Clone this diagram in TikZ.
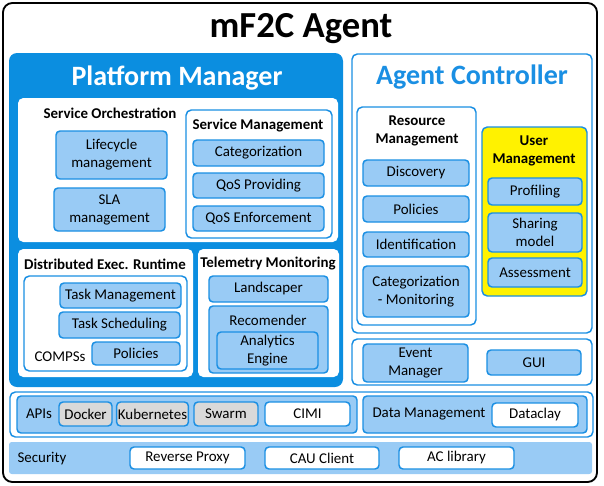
\documentclass[tikz,border=0pt]{standalone}
\usepackage{fontspec}
\setmainfont{Carlito}
\usepackage{xcolor}
\usepackage{tikz}
\usetikzlibrary{positioning}
\definecolor{pmblue}{HTML}{0B8EE0}
\definecolor{lineblue}{HTML}{1A8FE3}
\definecolor{itemblue}{HTML}{99CBF5}
\definecolor{dockgray}{HTML}{D9D9D9}
\definecolor{umyellow}{HTML}{FFF200}
\tikzset{
x=0.75pt, y=-0.75pt, % one unit is one pixel of the drawing
sz/.style 2 args={minimum width=#1*0.75pt, minimum height=#2*0.75pt}, % size in pixels
base/.style={rectangle, inner sep=1pt, align=center, font=\fontsize{11.2}{13.5}\selectfont}, % all boxes
item/.style={base, draw=lineblue, line width=1.1pt, fill=itemblue, rounded corners=3pt}, % light blue boxes
panel/.style={base, draw=lineblue, line width=1.1pt, fill=white, rounded corners=4pt}, % white boxes with a border
plain/.style={base, fill=white, rounded corners=4pt}, % white boxes on the blue
tool/.style={item, fill=dockgray}, % grey boxes
head/.style={font=\fontsize{11.2}{13.5}\selectfont\bfseries, align=center, inner sep=0pt}, % titles of the panels
txt/.style={font=\fontsize{11.2}{13.5}\selectfont, inner sep=0pt}, % plain text
}

\begin{document}
\begin{tikzpicture}
  \useasboundingbox (0,0) rectangle (604,486);
  % the agent
  \node[base, draw=black, line width=1.4pt, rounded corners=7pt, sz={594}{479}] (agent) at (300,242.5) {};
  \node[head, font=\fontsize{27.5}{30}\selectfont\bfseries] (agenttitle) at (301,29) {mF2C Agent};

  % platform manager
  \node[base, fill=pmblue, rounded corners=6pt, sz={334}{334}] (pm) at (176,220) {};
  \node[head, text=white, font=\fontsize{21}{24}\selectfont\bfseries] (pmtitle) at (177,78) {Platform Manager};

  \node[plain, sz={320}{144}] (so) at (178,170) {};
  \node[head] (sotitle) at (110,113) {Service Orchestration};
  \node[item, sz={111}{48}] (lcm) at (111.5,155) {Lifecycle\\management};
  \node[item, sz={111}{43}] (sla) at (109.5,209.5) {SLA\\management};
  \node[panel, sz={146}{128}] (sm) at (259,174) {};
  \node[head] (smtitle) at (258,126) {Service Management};
  \node[item, sz={131}{26}] (categ) at (258.5,153) {Categorization};
  \node[item, sz={131}{25}] (qosp) at (258.5,185.5) {QoS Providing};
  \node[item, sz={131}{25}] (qose) at (258.5,218.5) {QoS Enforcement};

  \node[plain, sz={175}{128}] (der) at (105.5,313) {};
  \node[head] (dertitle) at (105,264) {Distributed Exec. Runtime};
  \node[panel, sz={163}{95}] (compss) at (105.5,323.5) {};
  \node[item, sz={121}{25}] (taskm) at (120.5,295.5) {Task Management};
  \node[item, sz={121}{26}] (tasks) at (119.5,325) {Task Scheduling};
  \node[item, sz={88}{23}] (cpol) at (136,353.5) {Policies};
  \node[txt] (compsstext) at (60,357) {COMPSs};

  \node[plain, sz={141}{128}] (tm) at (268.5,313) {};
  \node[head] (tmtitle) at (268,264) {Telemetry Monitoring};
  \node[item, sz={119}{26}] (land) at (268.5,289) {Landscaper};
  \node[item, sz={119}{67}] (rec) at (268.5,339.5) {};
  \node[txt] (rectext) at (268,320) {Recomender};
  \node[item, sz={101}{37}] (ana) at (267.5,350.5) {Analytics\\Engine};

  % agent controller
  \node[panel, sz={240}{279}] (ac) at (472,193.5) {};
  \node[head, text=lineblue, font=\fontsize{21}{24}\selectfont\bfseries] (actitle) at (472,77) {Agent Controller};

  \node[panel, sz={119}{218}] (rm) at (416.5,216) {};
  \node[head] (rmtitle) at (417,130.5) {Resource\\Management};
  \node[item, sz={106}{26}] (disc) at (416,173) {Discovery};
  \node[item, sz={106}{26}] (rpol) at (416,209) {Policies};
  \node[item, sz={106}{25}] (ident) at (416,244.5) {Identification};
  \node[item, sz={106}{51}] (catmon) at (416,291.5) {Categorization\\- Monitoring};

  \node[panel, fill=umyellow, sz={105}{169}] (um) at (534.5,211.5) {};
  \node[head] (umtitle) at (534,150.5) {User\\Management};
  \node[item, sz={94}{27}] (prof) at (535,191.5) {Profiling};
  \node[item, sz={94}{39}] (share) at (535,232.5) {Sharing\\model};
  \node[item, sz={94}{29}] (assess) at (535,272.5) {Assessment};

  \node[panel, sz={240}{46}] (eg) at (472,362) {};
  \node[item, sz={105}{38}] (event) at (415.5,363) {Event\\Manager};
  \node[item, sz={94}{25}] (gui) at (534,362.5) {GUI};

  % apis and data
  \node[panel, sz={583}{45}] (row) at (301.5,414.5) {};
  \node[item, sz={340}{37}] (apis) at (187,414.5) {};
  \node[txt] (apistext) at (39,414) {APIs};
  \node[tool, sz={53}{24}] (docker) at (85.5,414) {Docker};
  \node[tool, sz={71}{24}] (kube) at (152.5,414) {Kubernetes};
  \node[tool, sz={64}{24}] (swarm) at (226,414) {Swarm};
  \node[panel, rounded corners=3pt, sz={85}{24}] (cimi) at (307.5,414) {CIMI};
  \node[item, sz={224}{37}] (dm) at (475,414.5) {};
  \node[txt] (dmtext) at (429,414) {Data Management};
  \node[panel, rounded corners=3pt, sz={86}{24}] (dataclay) at (535,415) {Dataclay};

  % security
  \node[base, fill=itemblue, rounded corners=2pt, sz={583}{32}] (sec) at (300.5,458) {};
  \node[txt] (sectext) at (42,459) {Security};
  \node[panel, rounded corners=3pt, sz={115}{22}] (proxy) at (187.5,458) {Reverse Proxy};
  \node[panel, rounded corners=3pt, sz={114}{22}] (cau) at (322,458) {CAU Client};
  \node[panel, rounded corners=3pt, sz={115}{22}] (aclib) at (456.5,458) {AC library};
\end{tikzpicture}
\end{document}
